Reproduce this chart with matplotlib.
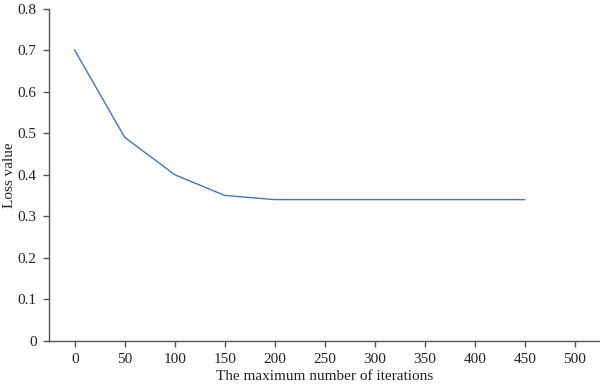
import matplotlib
matplotlib.use("Agg")
import matplotlib.pyplot as plt

iterations = [0, 50, 100, 150, 200, 250, 300, 350, 400, 450]
loss = [0.70, 0.49, 0.40, 0.35, 0.34, 0.34, 0.34, 0.34, 0.34, 0.34]
xticks = [0, 50, 100, 150, 200, 250, 300, 350, 400, 450, 500]
yticks = [0, 0.1, 0.2, 0.3, 0.4, 0.5, 0.6, 0.7, 0.8]

plt.rcParams['font.family'] = ['Liberation Serif', 'DejaVu Serif']

fig = plt.figure(figsize=(6, 3.88), dpi=100)
ax = fig.add_axes([49/600, 1 - 340.7/388, (600 - 49)/600, (340.7 - 8.7)/388])
ax.plot(iterations, loss, color='#4472C4', linewidth=1.0)
ax.set_xlim(-25.7, 525.3)
ax.set_ylim(0, 0.8)
ax.set_xticks(xticks)
ax.set_yticks(yticks)
ax.set_yticklabels(['0', '0.1', '0.2', '0.3', '0.4', '0.5', '0.6', '0.7', '0.8'])
for s in ['top', 'right']:
    ax.spines[s].set_visible(False)
for s in ['left', 'bottom']:
    ax.spines[s].set_color('#555555')
    ax.spines[s].set_linewidth(1.0)
ax.tick_params(direction='out', length=4, width=1, color='#555555', labelsize=11, labelcolor='#222222', pad=5)
ax.set_xlabel('The maximum number of iterations', fontsize=11, color='#222222')
ax.set_ylabel('Loss value', fontsize=11, color='#222222')
ax.yaxis.set_label_coords((16 - 49) / 551, 0.5)
ax.xaxis.set_label_coords(0.5, -(370 - 340.7) / 332)
fig.savefig('out.png', dpi=100)
